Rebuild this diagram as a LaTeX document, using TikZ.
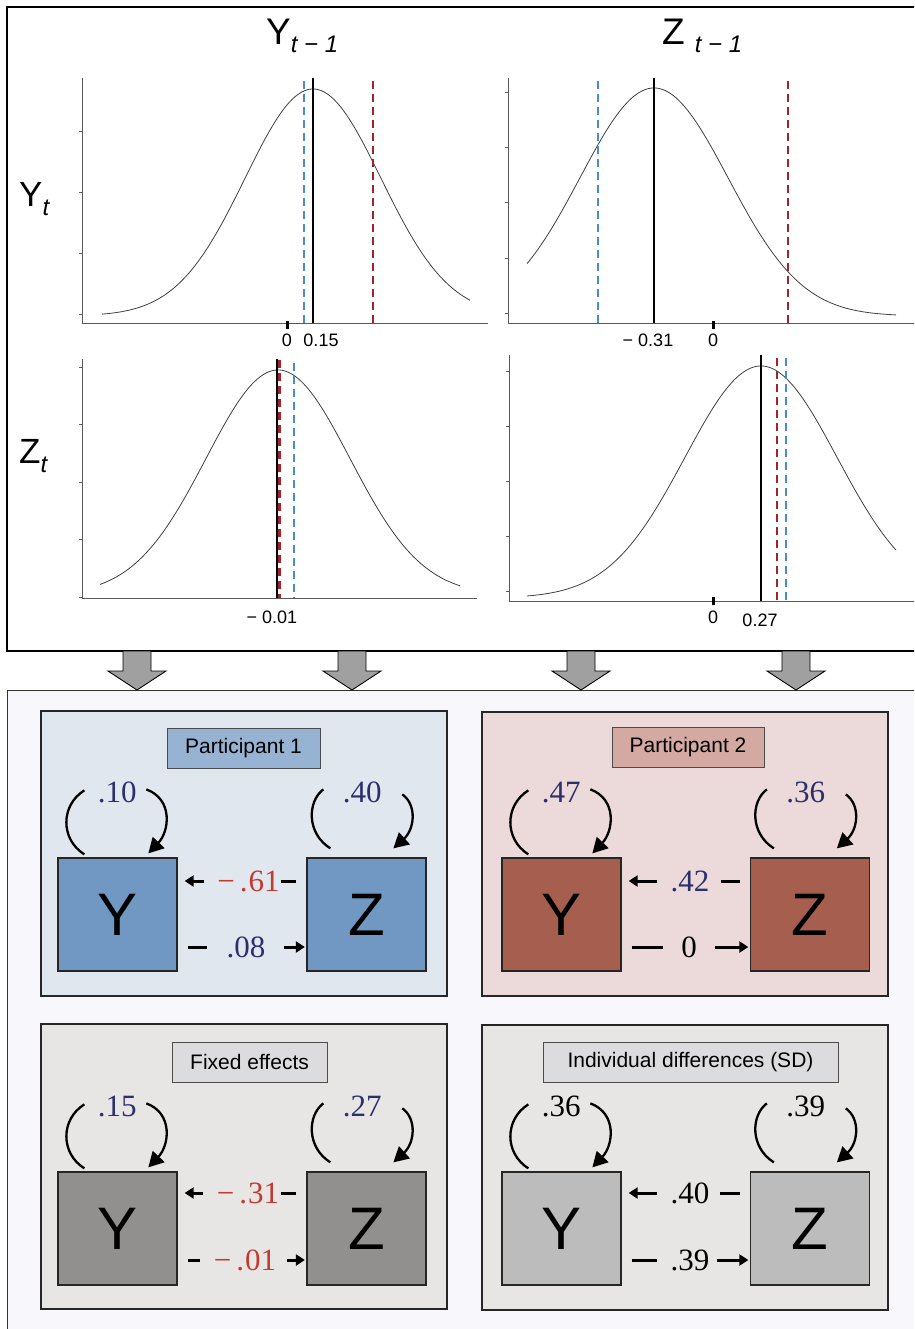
\documentclass[tikz,border=0pt]{standalone}
\usepackage{fontspec}
\setmainfont{Liberation Sans}
\newfontfamily\numfont{Liberation Serif}
\usetikzlibrary{arrows.meta,calc}
\newcommand\myfs[1]{\fontsize{#1}{#1}\selectfont}
\definecolor{bgbot}{HTML}{F8F7FC}
\definecolor{p1bg}{HTML}{E1E7EF}
\definecolor{p1tt}{HTML}{97B3D3}
\definecolor{p1bx}{HTML}{7098C3}
\definecolor{p2bg}{HTML}{ECD9D9}
\definecolor{p2tt}{HTML}{D4A9A2}
\definecolor{p2bx}{HTML}{A65E4F}
\definecolor{p3bg}{HTML}{E7E6E5}
\definecolor{p3tt}{HTML}{DCDBDE}
\definecolor{p3bx}{HTML}{928F8F}
\definecolor{p4bx}{HTML}{BDBCBC}
\definecolor{numblue}{HTML}{2C2F6B}
\definecolor{numred}{HTML}{C33A31}
\definecolor{dashblue}{HTML}{4A8CC4}
\definecolor{dashred}{HTML}{A3232A}
\definecolor{arrgray}{HTML}{A0A0A0}
% self loops
\newcommand\yloop[3]{%
 \draw[loopl] ($(#1.north west)+(27,-3)$) .. controls ($(#1.north west)+(3,-18)$) and ($(#1.north west)+(3,-52)$) .. ($(#1.north west)+(27,-67)$);
 \node[num] (#2) at ($(#1.north west)+(60,-65)$) {#3};
 \draw[loopr] ($(#1.north west)+(89,-68)$) .. controls ($(#1.north west)+(116,-58)$) and ($(#1.north west)+(112,-26)$) .. ($(#1.north west)+(91,-4)$);
}
\newcommand\zloop[3]{%
 \draw[loopl] ($(#1.north west)+(24,-9)$) .. controls ($(#1.north west)+(0,-24)$) and ($(#1.north west)+(1,-56)$) .. ($(#1.north west)+(17,-68)$);
 \node[num] (#2) at ($(#1.north west)+(56,-65)$) {#3};
 \draw[loopr] ($(#1.north west)+(96,-63)$) .. controls ($(#1.north west)+(111,-52)$) and ($(#1.north west)+(108,-28)$) .. ($(#1.north west)+(87,-9)$);
}
% cross-lagged connectors: #1 Z box, #2 Y box, #3 label name, #4 position, #5 text, #6 left gap, #7 right gap
\newcommand\topcross[7]{%
 \node[num] (#3) at #4 {#5};
 \draw[dashseg] ($(#1.west |- #3)+(-10,0)$) -- ($(#3.east)+(#7,0)$);
 \draw[crossarr] ($(#3.west)+(-#6,0)$) -- ($(#2.east |- #3)+(7,0)$);
}
\newcommand\botcross[7]{%
 \node[num] (#3) at #4 {#5};
 \draw[dashseg] ($(#2.east |- #3)+(10,0)$) -- ($(#3.west)+(-#6,0)$);
 \draw[crossarr] ($(#3.east)+(#7,0)$) -- ($(#1.west |- #3)+(-1.5,0)$);
}
\begin{document}
\begin{tikzpicture}[x=1pt,y=-1pt,
 axisl/.style={draw=black!65, line width=0.9pt},
 curve/.style={draw=black!75, line width=0.8pt},
 meanl/.style={draw=black, line width=2.5pt},
 bluedash/.style={draw=dashblue, line width=2.5pt, dash pattern=on 8pt off 5pt},
 reddash/.style={draw=dashred, line width=2.5pt, dash pattern=on 8pt off 5pt},
 zerotick/.style={draw=black, line width=3pt},
 ticklbl/.style={font=\myfs{18}, inner sep=0},
 panel/.style={draw=black!85, line width=1.3pt},
 ttl/.style={draw=black!70, line width=0.9pt, minimum height=40, inner sep=0, font=\myfs{21}},
 var/.style={draw=black!85, line width=1.3pt, minimum width=119, minimum height=113, inner sep=0, font=\myfs{60}},
 num/.style={font=\numfont\myfs{31}, inner sep=0},
 loopl/.style={line width=2.3pt},
 loopr/.style={line width=2.3pt, -{Triangle[length=15pt,width=16pt]}},
 dashseg/.style={line width=3pt},
 crossarr/.style={line width=3pt, -{Triangle[length=9pt,width=11pt]}},
 bigarr/.style={fill=arrgray, draw=black, line width=0.9pt, line join=miter},
 hdr/.style={anchor=base west, inner sep=0},
]
\useasboundingbox (0,0) rectangle (914,1329);
\clip (0,0) rectangle (914,1329);
\fill[white] (0,0) rectangle (914,1329);

% frames
\draw[line width=1.2pt, fill=white] (7,7) rectangle (930,651);
\draw[line width=1pt, draw=black!80, fill=bgbot] (7,690) rectangle (930,1345);

% headers
\node[hdr, font=\myfs{37}] (hy) at (266,45) {Y\raisebox{-8pt}{\myfs{24}\itshape t − 1}};
\node[hdr, font=\myfs{37}] (hz) at (662,45) {Z\hspace{10pt}\raisebox{-8pt}{\myfs{24}\itshape t − 1}};
\node[hdr, font=\myfs{35}] (ry) at (19,207) {Y\raisebox{-9pt}{\myfs{24}\itshape t}};
\node[hdr, font=\myfs{35}] (rz) at (19,463) {Z\raisebox{-9pt}{\myfs{24}\itshape t}};

% ---- plot 1 : Y_t on Y_{t-1}
\draw[axisl] (82,78) -- (82,323) -- (488,323);
\foreach \t in {131,192,253,314} \draw[axisl] (79,\t) -- (82,\t);
\draw[curve] plot[domain=102:470, samples=150] (\x,{316-227*exp(-0.5*((\x-313)/68)*((\x-313)/68))});
\draw[meanl] (313,78) -- (313,323);
\draw[bluedash] (304,81) -- (304,323);
\draw[reddash] (373,81) -- (373,323);
\draw[zerotick] (287,321) -- (287,329);
\node[ticklbl] (p1a) at (287,340) {0};
\node[ticklbl] (p1b) at (321,340) {0.15};

% ---- plot 2 : Y_t on Z_{t-1}
\draw[axisl] (508,78) -- (508,323) -- (920,323);
\foreach \t in {92,147,202,258,313} \draw[axisl] (505,\t) -- (508,\t);
\draw[curve] plot[domain=527:896, samples=150] (\x,{316-228*exp(-0.5*((\x-654)/74)*((\x-654)/74))});
\draw[meanl] (654,78) -- (654,323);
\draw[bluedash] (598,81) -- (598,323);
\draw[reddash] (788,81) -- (788,323);
\draw[zerotick] (713,321) -- (713,329);
\node[ticklbl] (p2a) at (648,340) {− 0.31};
\node[ticklbl] (p2b) at (713,340) {0};

% ---- plot 3 : Z_t on Y_{t-1}
\draw[axisl] (82,359) -- (82,598) -- (477,598);
\foreach \t in {367,424,482,539,597} \draw[axisl] (79,\t) -- (82,\t);
\draw[curve] plot[domain=100:460, samples=150] (\x,{595-225*exp(-0.5*((\x-278)/72)*((\x-278)/72))});
\draw[meanl] (277,359) -- (277,598);
\draw[reddash] (279.5,360) -- (279.5,598);
\draw[bluedash] (294,363) -- (294,598);
\node[ticklbl] (p3a) at (272,617) {− 0.01};

% ---- plot 4 : Z_t on Z_{t-1}
\draw[axisl] (509,355) -- (509,601) -- (920,601);
\foreach \t in {371,426,481,536,591} \draw[axisl] (506,\t) -- (509,\t);
\draw[curve] plot[domain=527:896, samples=150] (\x,{598-232*exp(-0.5*((\x-761)/76)*((\x-761)/76))});
\draw[meanl] (761,355) -- (761,601);
\draw[reddash] (777,358) -- (777,601);
\draw[bluedash] (786,358) -- (786,601);
\draw[zerotick] (713,597) -- (713,605);
\node[ticklbl] (p4a) at (713,617) {0};
\node[ticklbl] (p4b) at (760,620) {0.27};

% big grey arrows
\foreach \c in {137,352,581,796}
  \draw[bigarr] (\c-14,651) -- (\c+14,651) -- (\c+14,671) -- (\c+29,671) -- (\c,690) -- (\c-29,671) -- (\c-14,671) -- cycle;

% ---- panels
\draw[panel, fill=p1bg] (41,711) rectangle (447,996);
\draw[panel, fill=p2bg] (482,712) rectangle (888,996);
\draw[panel, fill=p3bg] (41,1024) rectangle (447,1309);
\draw[panel, fill=p3bg] (482,1025) rectangle (888,1310);

\node[ttl, fill=p1tt, minimum width=153] (t1) at (243.5,748) {Participant 1};
\node[ttl, fill=p2tt, minimum width=152] (t2) at (688,747) {Participant 2};
\node[ttl, fill=p3tt, minimum width=155] (t3) at (249.5,1062) {Fixed effects};
\node[ttl, fill=p3tt, minimum width=295] (t4) at (690.5,1062) {Individual differences (SD)};

\node[var, fill=p1bx] (Y1) at (117.5,914.5) {Y};
\node[var, fill=p1bx] (Z1) at (366.5,914.5) {Z};
\node[var, fill=p2bx] (Y2) at (561.5,914.5) {Y};
\node[var, fill=p2bx] (Z2) at (810,914.5) {Z};
\node[var, fill=p3bx] (Y3) at (117.5,1228.5) {Y};
\node[var, fill=p3bx] (Z3) at (366.5,1228.5) {Z};
\node[var, fill=p4bx] (Y4) at (561.5,1228.5) {Y};
\node[var, fill=p4bx] (Z4) at (810,1228.5) {Z};

% autoregressive loops
\yloop{Y1}{ly1}{\color{numblue}.10}
\zloop{Z1}{lz1}{\color{numblue}.40}
\yloop{Y2}{ly2}{\color{numblue}.47}
\zloop{Z2}{lz2}{\color{numblue}.36}
\yloop{Y3}{ly3}{\color{numblue}.15}
\zloop{Z3}{lz3}{\color{numblue}.27}
\yloop{Y4}{ly4}{.36}
\zloop{Z4}{lz4}{.39}

% cross-lagged effects
\topcross{Z1}{Y1}{c1t}{(248.5,881)}{\color{numred}−\kern5pt.\kern1pt61}{13}{1}
\botcross{Z1}{Y1}{c1b}{(246,947)}{\color{numblue}.08}{19}{18}
\topcross{Z2}{Y2}{c2t}{(690,881)}{\color{numblue}.42}{13}{11}
\botcross{Z2}{Y2}{c2b}{(689,947)}{0}{18}{18}
\topcross{Z3}{Y3}{c3t}{(248,1193)}{\color{numred}−\kern5pt.\kern1pt31}{14}{2}
\botcross{Z3}{Y3}{c3b}{(245,1260)}{\color{numred}−\kern5pt.\kern1pt01}{14}{11}
\topcross{Z4}{Y4}{c4t}{(690,1193)}{.40}{13}{10}
\botcross{Z4}{Y4}{c4b}{(690,1260)}{.39}{13}{7}
\end{tikzpicture}
\end{document}
